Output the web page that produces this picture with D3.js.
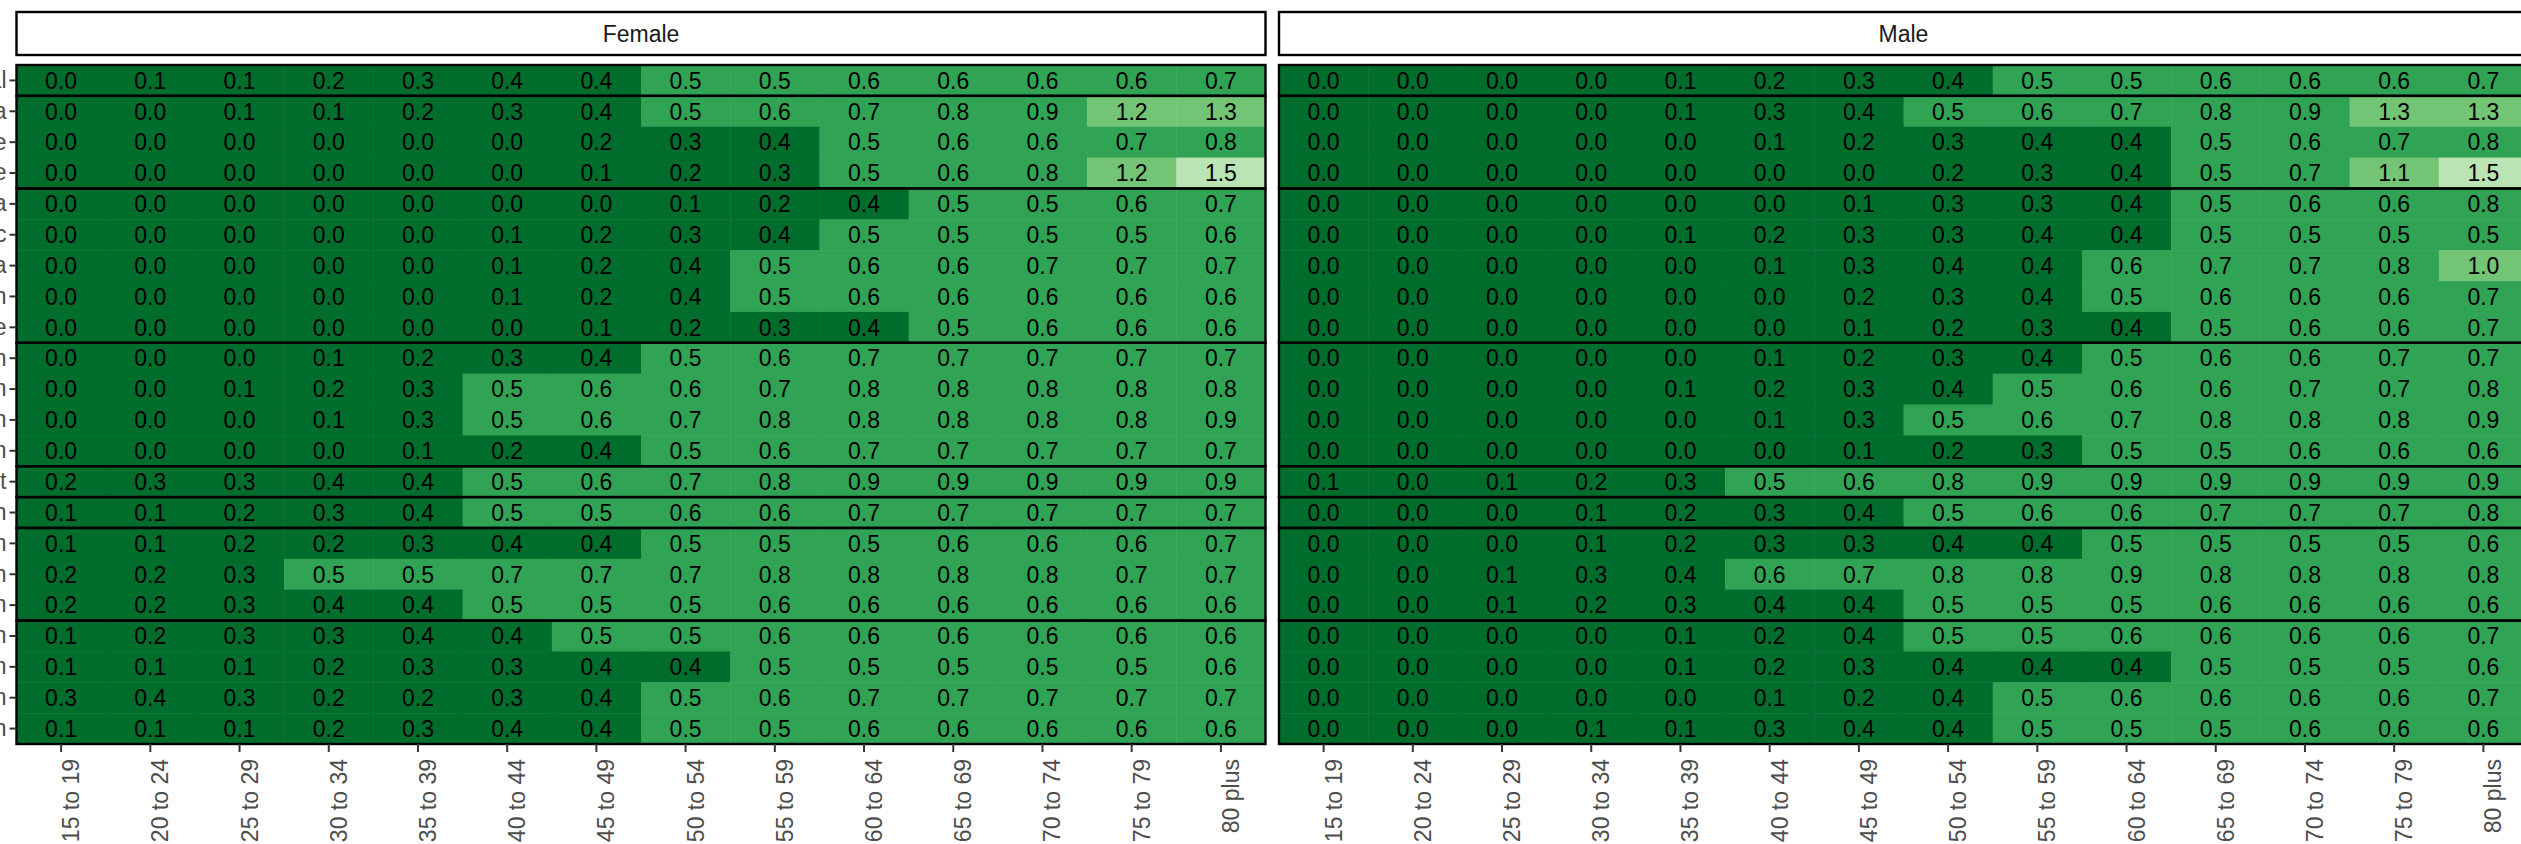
<!DOCTYPE html>
<html lang="en">
<head>
<meta charset="utf-8">
<title>Heatmap by age and sex</title>
<script src="https://cdn.jsdelivr.net/npm/d3@7"></script>
<style>
  body { margin: 0; background: #fff; overflow: hidden; }
  svg { display: block; font-family: "Liberation Sans", Arial, Helvetica, sans-serif; }
  .axis text { fill: #4d4d4d; font-size: 23px; }
  .axis line { stroke: #333; stroke-width: 2; }
  .cell-label { font-size: 23px; fill: #000; }
  .strip-label { font-size: 23px; fill: #1a1a1a; }
</style>
</head>
<body>
<svg id="chart" width="2521" height="844"></svg>
<script>
// age groups along x
let ages = ["15 to 19", "20 to 24", "25 to 29", "30 to 34", "35 to 39", "40 to 44", "45 to 49",
  "50 to 54", "55 to 59", "60 to 64", "65 to 69", "70 to 74", "75 to 79", "80 plus"];

let sexes = ["Female", "Male"];

// rows, top to bottom (only the ends of the names show in the picture)
let rowLabels = ["Total",
  "Austria", "France", "Greece",
  "Bulgaria", "Czech Republic", "Romania", "Russian Federation", "Ukraine",
  "Kazakhstan", "Kyrgyzstan", "Tajikistan", "Uzbekistan",
  "Egypt",
  "Iran",
  "Afghanistan", "Bhutan", "Pakistan",
  "Japan", "Lebanon", "Jordan", "Taiwan"];

// number of rows in each boxed group
let groupSizes = [1, 3, 5, 4, 1, 1, 3, 4];

let femaleValues = [
  [0.0, 0.1, 0.1, 0.2, 0.3, 0.4, 0.4, 0.5, 0.5, 0.6, 0.6, 0.6, 0.6, 0.7],
  [0.0, 0.0, 0.1, 0.1, 0.2, 0.3, 0.4, 0.5, 0.6, 0.7, 0.8, 0.9, 1.2, 1.3],
  [0.0, 0.0, 0.0, 0.0, 0.0, 0.0, 0.2, 0.3, 0.4, 0.5, 0.6, 0.6, 0.7, 0.8],
  [0.0, 0.0, 0.0, 0.0, 0.0, 0.0, 0.1, 0.2, 0.3, 0.5, 0.6, 0.8, 1.2, 1.5],
  [0.0, 0.0, 0.0, 0.0, 0.0, 0.0, 0.0, 0.1, 0.2, 0.4, 0.5, 0.5, 0.6, 0.7],
  [0.0, 0.0, 0.0, 0.0, 0.0, 0.1, 0.2, 0.3, 0.4, 0.5, 0.5, 0.5, 0.5, 0.6],
  [0.0, 0.0, 0.0, 0.0, 0.0, 0.1, 0.2, 0.4, 0.5, 0.6, 0.6, 0.7, 0.7, 0.7],
  [0.0, 0.0, 0.0, 0.0, 0.0, 0.1, 0.2, 0.4, 0.5, 0.6, 0.6, 0.6, 0.6, 0.6],
  [0.0, 0.0, 0.0, 0.0, 0.0, 0.0, 0.1, 0.2, 0.3, 0.4, 0.5, 0.6, 0.6, 0.6],
  [0.0, 0.0, 0.0, 0.1, 0.2, 0.3, 0.4, 0.5, 0.6, 0.7, 0.7, 0.7, 0.7, 0.7],
  [0.0, 0.0, 0.1, 0.2, 0.3, 0.5, 0.6, 0.6, 0.7, 0.8, 0.8, 0.8, 0.8, 0.8],
  [0.0, 0.0, 0.0, 0.1, 0.3, 0.5, 0.6, 0.7, 0.8, 0.8, 0.8, 0.8, 0.8, 0.9],
  [0.0, 0.0, 0.0, 0.0, 0.1, 0.2, 0.4, 0.5, 0.6, 0.7, 0.7, 0.7, 0.7, 0.7],
  [0.2, 0.3, 0.3, 0.4, 0.4, 0.5, 0.6, 0.7, 0.8, 0.9, 0.9, 0.9, 0.9, 0.9],
  [0.1, 0.1, 0.2, 0.3, 0.4, 0.5, 0.5, 0.6, 0.6, 0.7, 0.7, 0.7, 0.7, 0.7],
  [0.1, 0.1, 0.2, 0.2, 0.3, 0.4, 0.4, 0.5, 0.5, 0.5, 0.6, 0.6, 0.6, 0.7],
  [0.2, 0.2, 0.3, 0.5, 0.5, 0.7, 0.7, 0.7, 0.8, 0.8, 0.8, 0.8, 0.7, 0.7],
  [0.2, 0.2, 0.3, 0.4, 0.4, 0.5, 0.5, 0.5, 0.6, 0.6, 0.6, 0.6, 0.6, 0.6],
  [0.1, 0.2, 0.3, 0.3, 0.4, 0.4, 0.5, 0.5, 0.6, 0.6, 0.6, 0.6, 0.6, 0.6],
  [0.1, 0.1, 0.1, 0.2, 0.3, 0.3, 0.4, 0.4, 0.5, 0.5, 0.5, 0.5, 0.5, 0.6],
  [0.3, 0.4, 0.3, 0.2, 0.2, 0.3, 0.4, 0.5, 0.6, 0.7, 0.7, 0.7, 0.7, 0.7],
  [0.1, 0.1, 0.1, 0.2, 0.3, 0.4, 0.4, 0.5, 0.5, 0.6, 0.6, 0.6, 0.6, 0.6]
];

let maleValues = [
  [0.0, 0.0, 0.0, 0.0, 0.1, 0.2, 0.3, 0.4, 0.5, 0.5, 0.6, 0.6, 0.6, 0.7],
  [0.0, 0.0, 0.0, 0.0, 0.1, 0.3, 0.4, 0.5, 0.6, 0.7, 0.8, 0.9, 1.3, 1.3],
  [0.0, 0.0, 0.0, 0.0, 0.0, 0.1, 0.2, 0.3, 0.4, 0.4, 0.5, 0.6, 0.7, 0.8],
  [0.0, 0.0, 0.0, 0.0, 0.0, 0.0, 0.0, 0.2, 0.3, 0.4, 0.5, 0.7, 1.1, 1.5],
  [0.0, 0.0, 0.0, 0.0, 0.0, 0.0, 0.1, 0.3, 0.3, 0.4, 0.5, 0.6, 0.6, 0.8],
  [0.0, 0.0, 0.0, 0.0, 0.1, 0.2, 0.3, 0.3, 0.4, 0.4, 0.5, 0.5, 0.5, 0.5],
  [0.0, 0.0, 0.0, 0.0, 0.0, 0.1, 0.3, 0.4, 0.4, 0.6, 0.7, 0.7, 0.8, 1.0],
  [0.0, 0.0, 0.0, 0.0, 0.0, 0.0, 0.2, 0.3, 0.4, 0.5, 0.6, 0.6, 0.6, 0.7],
  [0.0, 0.0, 0.0, 0.0, 0.0, 0.0, 0.1, 0.2, 0.3, 0.4, 0.5, 0.6, 0.6, 0.7],
  [0.0, 0.0, 0.0, 0.0, 0.0, 0.1, 0.2, 0.3, 0.4, 0.5, 0.6, 0.6, 0.7, 0.7],
  [0.0, 0.0, 0.0, 0.0, 0.1, 0.2, 0.3, 0.4, 0.5, 0.6, 0.6, 0.7, 0.7, 0.8],
  [0.0, 0.0, 0.0, 0.0, 0.0, 0.1, 0.3, 0.5, 0.6, 0.7, 0.8, 0.8, 0.8, 0.9],
  [0.0, 0.0, 0.0, 0.0, 0.0, 0.0, 0.1, 0.2, 0.3, 0.5, 0.5, 0.6, 0.6, 0.6],
  [0.1, 0.0, 0.1, 0.2, 0.3, 0.5, 0.6, 0.8, 0.9, 0.9, 0.9, 0.9, 0.9, 0.9],
  [0.0, 0.0, 0.0, 0.1, 0.2, 0.3, 0.4, 0.5, 0.6, 0.6, 0.7, 0.7, 0.7, 0.8],
  [0.0, 0.0, 0.0, 0.1, 0.2, 0.3, 0.3, 0.4, 0.4, 0.5, 0.5, 0.5, 0.5, 0.6],
  [0.0, 0.0, 0.1, 0.3, 0.4, 0.6, 0.7, 0.8, 0.8, 0.9, 0.8, 0.8, 0.8, 0.8],
  [0.0, 0.0, 0.1, 0.2, 0.3, 0.4, 0.4, 0.5, 0.5, 0.5, 0.6, 0.6, 0.6, 0.6],
  [0.0, 0.0, 0.0, 0.0, 0.1, 0.2, 0.4, 0.5, 0.5, 0.6, 0.6, 0.6, 0.6, 0.7],
  [0.0, 0.0, 0.0, 0.0, 0.1, 0.2, 0.3, 0.4, 0.4, 0.4, 0.5, 0.5, 0.5, 0.6],
  [0.0, 0.0, 0.0, 0.0, 0.0, 0.1, 0.2, 0.4, 0.5, 0.6, 0.6, 0.6, 0.6, 0.7],
  [0.0, 0.0, 0.0, 0.1, 0.1, 0.3, 0.4, 0.4, 0.5, 0.5, 0.5, 0.6, 0.6, 0.6]
];

let colourBreaks = [0.5, 1.0, 1.5];
let colourBins = ["#006d2c", "#31a354", "#74c476", "#bae4b3"];

// layout
let panelLeft = 16.5, panelWidth = 1249, panelGap = 13.5;
let stripTop = 12, stripHeight = 43;
let plotTop = 65, plotBottom = 744;

let svg = d3.select("#chart");

let x = d3.scaleBand().domain(ages).range([0, panelWidth]);
let y = d3.scaleBand().domain(rowLabels).range([plotTop, plotBottom]);
let fill = d3.scaleThreshold().domain(colourBreaks).range(colourBins);
let fmt = d3.format(".1f");

// start/end rows of each group
let groups = [];
let start = 0;
groupSizes.forEach(n => {
  groups.push({first: rowLabels[start], last: rowLabels[start + n - 1]});
  start += n;
});

let panelData = [femaleValues, maleValues];

sexes.forEach((sex, si) => {
  let px = panelLeft + si * (panelWidth + panelGap);
  let g = svg.append("g").attr("transform", `translate(${px},0)`);

  let cells = [];
  panelData[si].forEach((row, ri) => {
    row.forEach((v, ai) => cells.push({row: rowLabels[ri], age: ages[ai], value: v}));
  });

  g.selectAll("rect.cell")
    .data(cells).enter()
    .append("rect")
    .attr("class", "cell")
    .attr("x", d => x(d.age))
    .attr("y", d => y(d.row))
    .attr("width", x.bandwidth() + 0.5)
    .attr("height", y.bandwidth() + 0.5)
    .attr("fill", d => fill(d.value));

  g.selectAll("text.cell-label")
    .data(cells).enter()
    .append("text")
    .attr("class", "cell-label")
    .attr("x", d => x(d.age) + x.bandwidth() / 2)
    .attr("y", d => y(d.row) + y.bandwidth() / 2)
    .attr("dy", "0.36em")
    .attr("text-anchor", "middle")
    .text(d => fmt(d.value));

  // one boxed panel per group
  g.selectAll("rect.group")
    .data(groups).enter()
    .append("rect")
    .attr("class", "group")
    .attr("x", 0)
    .attr("y", d => y(d.first))
    .attr("width", panelWidth)
    .attr("height", d => y(d.last) + y.bandwidth() - y(d.first))
    .attr("fill", "none")
    .attr("stroke", "#000")
    .attr("stroke-width", 2.4);

  // strip
  g.append("rect")
    .attr("x", 0).attr("y", stripTop)
    .attr("width", panelWidth).attr("height", stripHeight)
    .attr("fill", "#fff")
    .attr("stroke", "#000")
    .attr("stroke-width", 2.4);
  g.append("text")
    .attr("class", "strip-label")
    .attr("x", panelWidth / 2)
    .attr("y", 41.5)
    .attr("text-anchor", "middle")
    .text(sex);

  // x axis
  let xa = g.append("g")
    .attr("class", "axis")
    .attr("transform", `translate(0,${plotBottom})`)
    .call(d3.axisBottom(x).tickSize(8));
  xa.select(".domain").remove();
  xa.selectAll("text")
    .attr("transform", "rotate(-90)")
    .attr("text-anchor", "end")
    .attr("x", -15)
    .attr("y", 18)
    .attr("dy", 0);

  if (si === 0) {
    let ya = g.append("g")
      .attr("class", "axis")
      .call(d3.axisLeft(y).tickSize(7).tickPadding(3));
    ya.select(".domain").remove();
  }
});
</script>
</body>
</html>
